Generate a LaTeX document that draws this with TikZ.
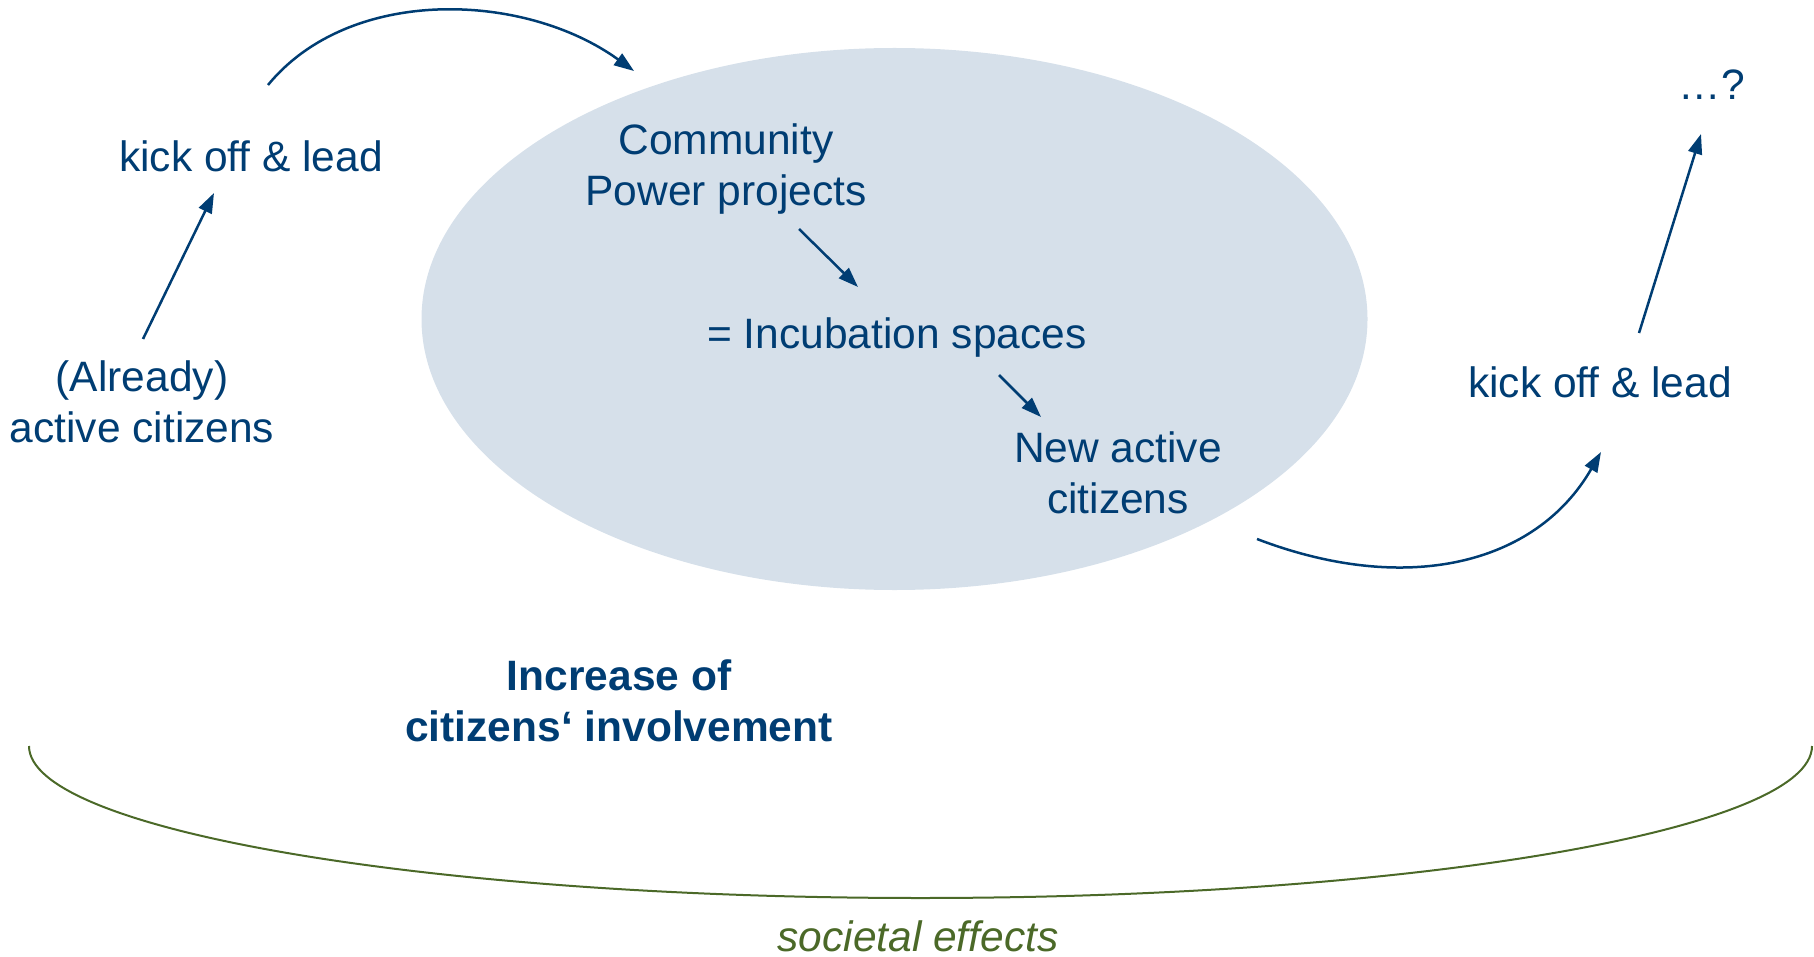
\documentclass[tikz,border=0pt]{standalone}
\usepackage{fontspec}
\setmainfont{Liberation Sans}
\usetikzlibrary{arrows.meta}
\definecolor{txtblue}{RGB}{0,61,115}
\definecolor{ellfill}{RGB}{214,224,234}
\definecolor{olivegr}{RGB}{75,105,40}
\begin{document}
\begin{tikzpicture}[x=0.5pt,y=-0.5pt,
  lbl/.style={font=\fontsize{21.25pt}{25.5pt}\selectfont, text=txtblue, inner sep=0pt, align=center, anchor=base},
  arr/.style={draw=txtblue, line width=1.25pt, -{Triangle[length=10pt,width=7pt]}},
  effect/.style={draw=olivegr, line width=1pt}]
\useasboundingbox (0,0) rectangle (1814,957);
% incubation ellipse
\fill[ellfill] (894.5,319) ellipse [x radius=236.5pt, y radius=135.5pt];
% societal effects arc
\draw[effect] (29,746) arc[start angle=180, end angle=360, x radius=445.75pt, y radius=76pt];
% texts (base anchor = baseline of the last line)
\node[lbl] (kl1) at (251,172) {kick off \& lead};
\node[lbl] (ac) at (142,442) {(Already)\\active citizens};
\node[lbl] (cpp) at (726,206) {Community\\Power projects};
\node[lbl] (inc) at (897,348) {= Incubation spaces};
\node[lbl] (nac) at (1118,513) {New active\\citizens};
\node[lbl] (kl2) at (1600,397) {kick off \& lead};
\node[lbl] (q) at (1712,100) {…?};
\node[lbl, font=\fontsize{21.25pt}{25.5pt}\selectfont\bfseries] (inv) at (619,741) {Increase of\\citizens‘ involvement};
\node[lbl, text=olivegr, font=\fontsize{21.25pt}{25.5pt}\selectfont\itshape] (se) at (918,951) {societal effects};
% connector end points
\coordinate (a0s) at (143,339);
\coordinate (a0e) at (214,193);
\coordinate (a1s) at (268,85);
\coordinate (a1e) at (634,71);
\coordinate (a2s) at (799,229);
\coordinate (a2e) at (858,287);
\coordinate (a3s) at (999,375);
\coordinate (a3e) at (1041,417);
\coordinate (a4s) at (1257,539);
\coordinate (a4e) at (1601,452);
\coordinate (a5s) at (1639,333);
\coordinate (a5e) at (1701,134);
% connectors
\draw[arr] (a0s) -- (a0e);
\draw[arr] (a1s) .. controls (350,-15) and (525,-8) .. (a1e);
\draw[arr] (a2s) -- (a2e);
\draw[arr] (a3s) -- (a3e);
\draw[arr] (a4s) .. controls (1406,596) and (1536,565) .. (a4e);
\draw[arr] (a5s) -- (a5e);
\end{tikzpicture}
\end{document}
